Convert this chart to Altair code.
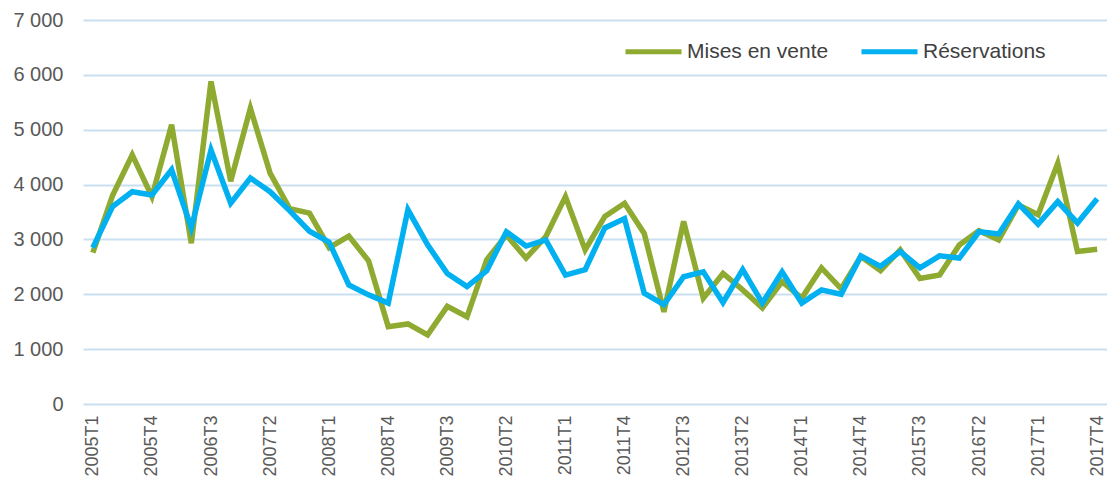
import altair as alt
import pandas as pd

quarters = [
    "2005T1", "2005T2", "2005T3", "2005T4",
    "2006T1", "2006T2", "2006T3", "2006T4",
    "2007T1", "2007T2", "2007T3", "2007T4",
    "2008T1", "2008T2", "2008T3", "2008T4",
    "2009T1", "2009T2", "2009T3", "2009T4",
    "2010T1", "2010T2", "2010T3", "2010T4",
    "2011T1", "2011T2", "2011T3", "2011T4",
    "2012T1", "2012T2", "2012T3", "2012T4",
    "2013T1", "2013T2", "2013T3", "2013T4",
    "2014T1", "2014T2", "2014T3", "2014T4",
    "2015T1", "2015T2", "2015T3", "2015T4",
    "2016T1", "2016T2", "2016T3", "2016T4",
    "2017T1", "2017T2", "2017T3", "2017T4",
]

mises_en_vente = [
    2760, 3800, 4540, 3780, 5090, 2930, 5880, 4060, 5390, 4210,
    3560, 3480, 2850, 3060, 2610, 1410, 1460, 1260, 1780, 1590,
    2630, 3080, 2660, 3050, 3780, 2810, 3420, 3660, 3110, 1680,
    3330, 1930, 2380, 2080, 1750, 2230, 1930, 2480, 2100, 2690,
    2430, 2810, 2290, 2350, 2900, 3160, 2990, 3630, 3450, 4390,
    2780, 2820,
]

reservations = [
    2850, 3600, 3870, 3810, 4270, 3210, 4630, 3660, 4120, 3870,
    3520, 3150, 2950, 2170, 1990, 1840, 3540, 2900, 2380, 2140,
    2430, 3140, 2880, 2990, 2350, 2450, 3210, 3380, 2020, 1810,
    2320, 2410, 1850, 2450, 1840, 2410, 1840, 2080, 2000, 2700,
    2510, 2780, 2480, 2700, 2660, 3140, 3100, 3650, 3280, 3690,
    3300, 3740,
]

series_names = ["Mises en vente", "Réservations"]
series_colors = ["#8FAA30", "#00B0F0"]
y_ticks = [0, 1000, 2000, 3000, 4000, 5000, 6000, 7000]
x_tick_idx = list(range(0, len(quarters), 3))

rows = []
for name, vals in zip(series_names, [mises_en_vente, reservations]):
    for i, (q, v) in enumerate(zip(quarters, vals)):
        rows.append({"i": i, "trimestre": q, "serie": name, "valeur": v})
df = pd.DataFrame(rows)

label_array = "[" + ",".join("'" + q + "'" for q in quarters) + "]"

FONT = "Liberation Sans"

chart = alt.Chart(df).mark_line(strokeWidth=5.5).encode(
    x=alt.X(
        "i:Q",
        scale=alt.Scale(domain=[-0.5, 51.5], nice=False, zero=False),
        axis=alt.Axis(
            values=x_tick_idx,
            labelExpr=label_array + "[datum.value]",
            labelAngle=-90,
            grid=False,
            ticks=False,
            domain=False,
            labelPadding=11,
            labelFontSize=18,
            labelColor="#595959",
            labelFont=FONT,
            labelBound=False,
            labelOverlap=False,
            title=None,
        ),
    ),
    y=alt.Y(
        "valeur:Q",
        scale=alt.Scale(domain=[0, 7000], nice=False),
        axis=alt.Axis(
            values=y_ticks,
            labelExpr="replace(format(datum.value, ','), ',', ' ')",
            grid=True,
            gridColor="#CADFF0",
            gridWidth=1.8,
            ticks=False,
            domain=False,
            labelPadding=20,
            labelFontSize=20,
            labelColor="#595959",
            labelFont=FONT,
            title=None,
        ),
    ),
    color=alt.Color(
        "serie:N",
        scale=alt.Scale(domain=series_names, range=series_colors),
        legend=alt.Legend(
            title=None,
            orient="none",
            legendX=540,
            legendY=1,
            direction="horizontal",
            symbolType="stroke",
            symbolSize=3136,
            symbolStrokeWidth=5,
            labelFontSize=21,
            labelFont=FONT,
            labelColor="#404040",
            labelOffset=3,
            columnPadding=22,
            padding=0,
        ),
    ),
).properties(
    width=1024,
    height=384,
    autosize=alt.AutoSizeParams(type="none"),
    padding={"left": 75, "top": 12, "right": 0, "bottom": 72},
).configure_view(stroke=None)

chart.save("out.html", embed_options={"renderer": "svg", "actions": False})
